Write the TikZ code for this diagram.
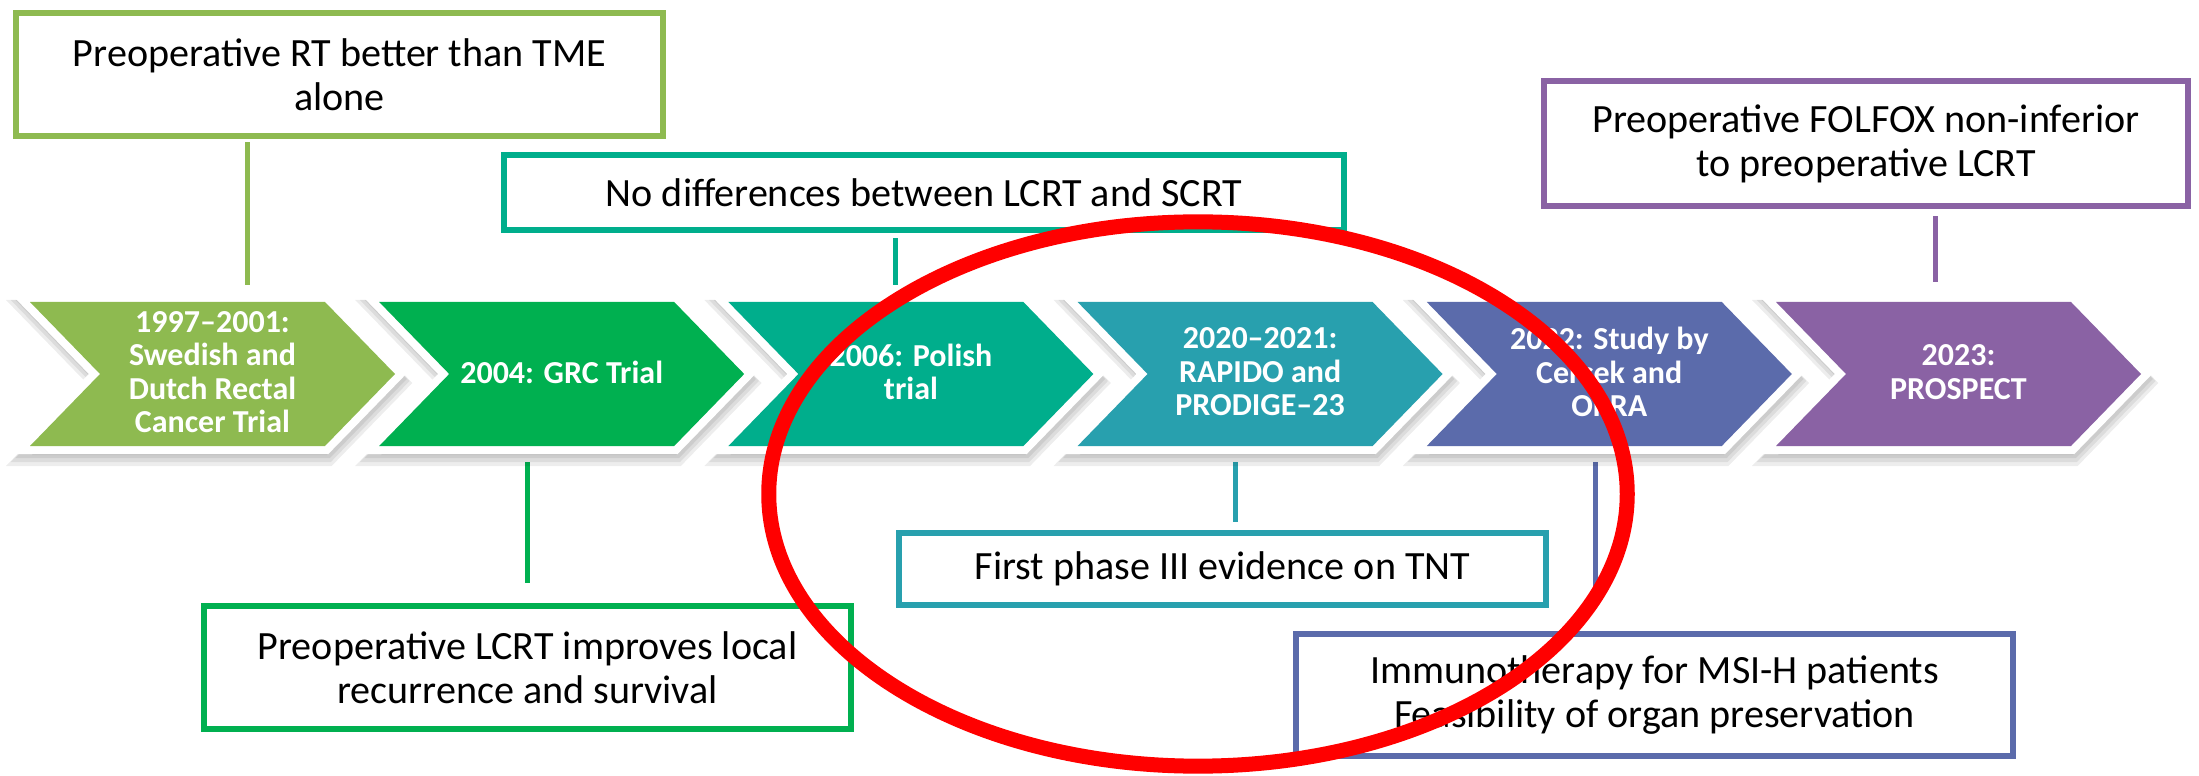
\documentclass[tikz,border=0pt]{standalone}
\usepackage{fontspec}
\setmainfont{Carlito}
\definecolor{cA}{HTML}{8EBA50}
\definecolor{cB}{HTML}{00B050}
\definecolor{cC}{HTML}{00AE8C}
\definecolor{cD}{HTML}{28A0AE}
\definecolor{cE}{HTML}{5B6BAB}
\definecolor{cF}{HTML}{8A62A4}
\tikzset{
  chtxt/.style={text=white, align=center, inner sep=0pt, font=\fontsize{9.1pt}{9.5pt}\selectfont\bfseries},
  bx/.style={draw, line width=0.06cm, fill=white, align=center, inner sep=0pt, outer sep=0pt, text=black,
             font=\fontsize{11.4pt}{12.5pt}\selectfont},
  ln/.style={line width=0.05cm},
}
\newcommand\mychev[4]{%
\begin{scope}[shift={(#1,0)}]
\foreach \dy/\lw in {9/0.22cm,7/0.18cm,5/0.14cm}{%
 \draw[black,opacity=0.07,line width=\lw,line join=miter,fill=black,shift={(2,\dy)}]
 (0,302) -- (295,302) -- (365,374) -- (295,446) -- (0,446) -- (70,374) -- cycle;}
\draw[white,line width=0.16cm,line join=miter,fill=white] (0,302) -- (295,302) -- (365,374) -- (295,446) -- (0,446) -- (70,374) -- cycle;
\fill[#2] (0,302) -- (295,302) -- (365,374) -- (295,446) -- (0,446) -- (70,374) -- cycle;
\node[chtxt] (#3) at (182.5,372) {#4};
\end{scope}}
\begin{document}
\begin{tikzpicture}[x=0.01cm,y=-0.01cm]
\useasboundingbox (0,0) rectangle (2199,776);
\fill[white] (0,0) rectangle (2199,776);

% boxes
\node[bx, draw=cA, minimum width=6.47cm, minimum height=1.23cm] (boxA) at (339.5,74.5) {Preoperative RT better than TME\\alone};
\node[bx, draw=cC, minimum width=8.40cm, minimum height=0.75cm] (boxB) at (924,192.5) {No differences between LCRT and SCRT};
\node[bx, draw=cF, minimum width=6.44cm, minimum height=1.25cm] (boxC) at (1866,143.5) {Preoperative FOLFOX non-inferior\\to preoperative LCRT};
\node[bx, draw=cB, minimum width=6.47cm, minimum height=1.23cm] (boxD) at (527.5,667.5) {Preoperative LCRT improves local\\recurrence and survival};
\node[bx, draw=cD, minimum width=6.47cm, minimum height=0.72cm] (boxE) at (1222.5,569) {First phase III evidence on TNT};
\node[bx, draw=cE, minimum width=7.17cm, minimum height=1.22cm] (boxF) at (1654.5,695) {Immunotherapy for MSI-H patients\\Feasibility of organ preservation};

% connector ends on the chevron row
\coordinate (pA) at (247,285);
\coordinate (pB) at (895,285);
\coordinate (pC) at (1935,282);
\coordinate (pD) at (527,462);
\coordinate (pE) at (1235,462);
\coordinate (pF) at (1595,462);

\draw[ln, cA, shorten <=0.06cm] (boxA.south -| pA) -- (pA);
\draw[ln, cC, shorten <=0.08cm] (boxB.south -| pB) -- (pB);
\draw[ln, cF, shorten <=0.10cm] (boxC.south -| pC) -- (pC);
\draw[ln, cB, shorten <=0.23cm] (boxD.north -| pD) -- (pD);
\draw[ln, cD, shorten <=0.11cm] (boxE.north -| pE) -- (pE);
\draw[ln, cE, shorten <=0.46cm] (boxF.north -| pF) -- (pF);

% chevrons
\mychev{30}{cA}{ch1}{1997–2001:\\Swedish and\\Dutch Rectal\\Cancer Trial}
\mychev{379.2}{cB}{ch2}{2004: GRC Trial}
\mychev{728.4}{cC}{ch3}{2006: Polish\\trial}
\mychev{1077.6}{cD}{ch4}{2020–2021:\\RAPIDO and\\PRODIGE–23}
\mychev{1426.8}{cE}{ch5}{2022: Study by\\Cercek and\\OPRA}
\mychev{1776}{cF}{ch6}{2023:\\PROSPECT}

% red annotation ellipse
\draw[red, line width=0.15cm] (1198,494) ellipse [x radius=4.29cm, y radius=2.72cm];
\end{tikzpicture}
\end{document}
